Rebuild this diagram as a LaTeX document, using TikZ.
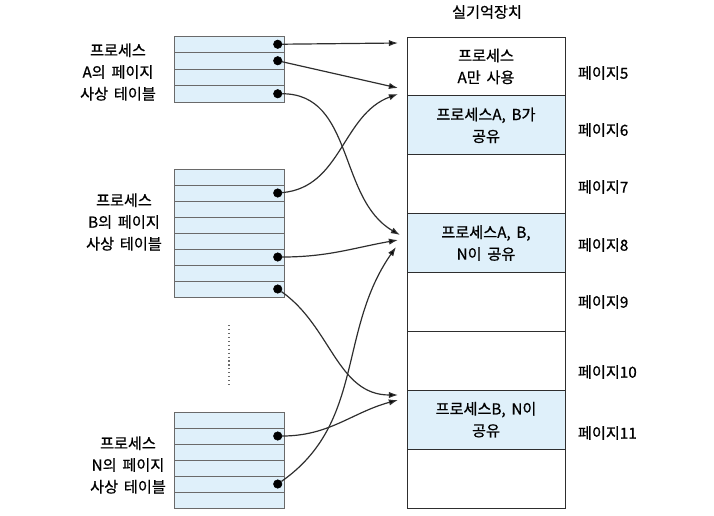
\documentclass[tikz,border=0pt]{standalone}
\usepackage{fontspec}
\setmainfont{Noto Sans CJK KR}[FakeBold=0.8,WordSpace=1.7]
\usetikzlibrary{arrows.meta,positioning}
\definecolor{cellblue}{HTML}{DFF0FA}
\definecolor{gridgray}{HTML}{6A6A6A}
\definecolor{wire}{HTML}{2E2E2E}
\tikzset{
    cell/.style={
    rectangle,draw=gridgray,line width=0.6pt,fill=cellblue,minimum width=2.75cm,minimum height=0.4cm,inner sep=0pt
    },
    memrow/.style={
    rectangle,draw=wire,line width=0.6pt,minimum width=3.95cm,minimum height=1.472cm,inner sep=0pt
    },
    ptr/.style={
    circle,draw=black,fill=black,minimum size=6pt,inner sep=0pt
    },
    label/.style={
    align=center
    },
    conn/.style={
    draw=wire,line width=0.85pt,-{Latex[length=6.5pt,width=4.5pt]}
    },
}
\begin{document}
\begin{tikzpicture}[x=0.025cm, y=-0.025cm, font=\fontsize{10.8}{15.5}\selectfont]
  \useasboundingbox (0,0) rectangle (714,515);

  % page tables
  \foreach \i in {1,...,4}
    \node[cell, minimum height=0.4125cm] (a\i) at (229.5, 27.75+16.5*\i) {};
  \foreach \i in {1,...,8}
    \node[cell] (b\i) at (229.5, 161+16*\i) {};
  \foreach \i in {1,...,6}
    \node[cell] (n\i) at (229.5, 404+16*\i) {};
  \foreach \c in {a1,a2,a4,b2,b6,b8,n2,n5}
    \node[ptr] (d\c) at ([xshift=-0.18cm]\c.east) {};

  \node[label] (labA) at (118,72) {프로세스\\A의 페이지\\사상 테이블};
  \node[label] (labB) at (124,222) {프로세스\\B의 페이지\\사상 테이블};
  \node[label] (labN) at (128,465) {프로세스\\N의 페이지\\사상 테이블};
  \draw[gridgray, dotted, line width=0.8pt] (229,325) -- (229,387);

  % main memory
  \node (title) at (487,12) {실기억장치};
  \foreach \i/\c in {1/white,2/cellblue,3/white,4/cellblue,5/white,6/white,7/cellblue,8/white}
    \node[memrow, fill=\c] (m\i) at (486, 7.56+58.875*\i) {};
  \node[label] (txt1) at (m1) {프로세스\\A만 사용};
  \node[label] (txt2) at (m2) {프로세스A, B가\\공유};
  \node[label] (txt4) at (m4) {프로세스A, B,\\N이 공유};
  \node[label] (txt7) at (m7) {프로세스B, N이\\공유};
  \foreach \p/\y in {5/73,6/130,7/187,8/245,9/302,10/372,11/433}
    \node[anchor=west] (pg\p) at (573,\y) {페이지\p};

  % arrow ends
  \coordinate (e5a) at (398,43);
  \coordinate (e5b) at (398,88);
  \coordinate (e6a) at (398,94);
  \coordinate (e8a) at (400,235);
  \coordinate (e8b) at (398,240);
  \coordinate (e8c) at (396,247);
  \coordinate (e11a) at (398,395);
  \coordinate (e11b) at (398,400);

  \path[conn]
    (da1) edge (e5a)
    (da2) edge (e5b)
    (da4) edge[out=0, in=150] (e8a)
    (db2) edge[out=5, in=200] (e6a)
    (db6) edge[out=0, in=190] (e8b)
    (db8) edge[out=-35, in=180] (e11a)
    (dn2) edge[out=0, in=195] (e11b)
    (dn5) edge[out=35, in=235] (e8c);
\end{tikzpicture}
\end{document}
